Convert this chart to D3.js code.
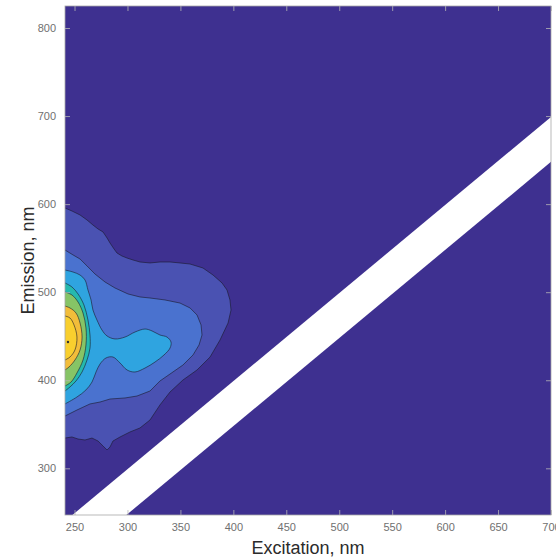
<!DOCTYPE html>
<html>
<head>
<meta charset="utf-8">
<script src="https://cdn.jsdelivr.net/npm/d3@7"></script>
<style>
body { margin: 0; background: #fff; }
text { font-family: "Liberation Sans", Arial, Helvetica, sans-serif; }
</style>
</head>
<body>
<script>
// axis ticks
var excitationTicks = [250, 300, 350, 400, 450, 500, 550, 600, 650, 700];
var emissionTicks = [300, 400, 500, 600, 700, 800];
var excitationRange = [241, 700];
var emissionRange = [247, 825];

// scatter band removed from the EEM (Em - Ex, nm)
var bandOffsets = [-1, -52];

// contour outlines, [excitation, emission] in nm, from outermost to innermost
var level1 = [[241,595.6],[247.6,592.2],[255.2,587.7],[261.8,582.0],[267.4,576.3],[272.2,571.8],[276.9,568.4],[280.7,561.6],[283.5,555.9],[287.3,549.1],[290.1,544.5],[294.8,541.1],[299.6,538.8],[305.2,536.6],[311.8,534.3],[321.3,533.2],[330.7,534.3],[340.2,534.3],[349.6,533.2],[359.1,532.0],[371.3,527.5],[380.8,519.5],[389.3,510.5],[394.0,502.5],[396.8,491.2],[397.8,479.8],[395.0,465.0],[387.4,445.7],[378.0,426.4],[365.7,411.7],[352.4,400.3],[340.2,386.7],[330.7,372.0],[321.3,354.9],[311.8,345.8],[302.4,341.3],[293.0,335.6],[286.3,331.0],[283.5,324.2],[280.7,320.8],[276.9,325.4],[272.2,331.0],[266.5,334.4],[259.9,332.2],[253.3,333.3],[247.6,335.6],[241,334.4]];
var level2 = [[241,547.9],[248.6,542.3],[255.2,537.7],[261.8,529.8],[269.3,520.7],[278.8,511.6],[288.2,504.8],[300.5,498.0],[311.8,494.6],[321.3,493.4],[335.4,491.2],[349.6,487.7],[359.1,482.1],[365.7,474.1],[369.5,462.8],[370.4,451.4],[367.6,440.1],[361.9,428.7],[352.4,417.3],[340.2,407.1],[330.7,399.2],[321.3,387.8],[309.0,382.1],[297.7,379.9],[283.5,378.7],[274.1,375.3],[264.6,373.1],[252.3,366.2],[241,359.4]];
var level3 = [[241,525.2],[248.6,522.9],[255.2,519.5],[259.9,513.9],[262.7,502.5],[265.6,491.2],[267.4,479.8],[271.2,468.4],[275.9,457.1],[280.7,450.3],[288.2,446.9],[297.7,449.1],[307.1,454.8],[316.6,458.2],[323.2,456.0],[330.7,451.4],[337.3,449.1],[341.1,443.5],[340.2,436.6],[334.5,428.7],[326.0,420.7],[316.6,413.9],[307.1,409.4],[299.6,411.7],[293.0,419.6],[286.3,426.4],[279.7,425.3],[274.1,418.5],[270.3,409.4],[266.5,398.0],[260.8,389.0],[252.3,381.0],[241,373.1]];
var level4 = [[241,510.5],[247.6,505.9],[253.3,498.0],[258.9,485.5],[262.7,468.4],[264.6,451.4],[264.6,436.6],[261.8,423.0],[257.1,409.4],[251.4,399.2],[245.7,392.4],[241,387.8]];
var level5 = [[241,500.2],[247.6,496.8],[253.3,488.9],[258.0,476.4],[260.8,459.4],[260.8,440.1],[258.0,423.0],[252.3,408.3],[246.7,398.0],[241,393.5]];
var level6 = [[241,484.3],[245.7,482.1],[251.4,476.4],[255.2,465.0],[257.1,449.1],[255.2,434.4],[250.4,423.0],[244.8,415.1],[241,411.7]];
var level7 = [[241,473.0],[245.7,470.7],[249.5,462.8],[252.3,449.1],[250.4,434.4],[245.7,426.4],[241,423.0]];
var peak = [243.8, 443.5];

var levels = [level1, level2, level3, level4, level5, level6, level7];
var palette = ["#3e3090", "#4a52b2", "#4a72cf", "#2fa4e0", "#25b9ae", "#86c466", "#f2bd3a", "#f9cf2e"];

var width = 556, height = 560;
var margin = {left: 65, right: 5, top: 6, bottom: 45};

var svg = d3.select("body").append("svg")
	.attr("width", width)
	.attr("height", height);

var x = d3.scaleLinear().domain(excitationRange).range([margin.left, width - margin.right]);
var y = d3.scaleLinear().domain(emissionRange).range([height - margin.bottom, margin.top]);

svg.append("clipPath").attr("id", "plot")
	.append("rect")
	.attr("x", x.range()[0]).attr("y", y.range()[1])
	.attr("width", x.range()[1] - x.range()[0])
	.attr("height", y.range()[0] - y.range()[1]);

var g = svg.append("g").attr("clip-path", "url(#plot)");

// lowest level fills the whole plot
g.append("rect")
	.attr("x", x.range()[0]).attr("y", y.range()[1])
	.attr("width", x.range()[1] - x.range()[0])
	.attr("height", y.range()[0] - y.range()[1])
	.attr("fill", palette[0]);

var line = d3.line()
	.x(function(d){ return x(d[0]); })
	.y(function(d){ return y(d[1]); });

for (var i = 0; i < levels.length; i++){
	// outer, noisy contours stay straight-edged, inner ones are smoothed
	line.curve(i < 2 ? d3.curveLinear : d3.curveCatmullRom.alpha(0.5));
	g.append("path")
		.attr("d", line(levels[i]) + "Z")
		.attr("fill", palette[i+1]);
	g.append("path")
		.attr("d", line(levels[i]))
		.attr("fill", "none")
		.attr("stroke", "#1a1a2a")
		.attr("stroke-width", 0.6);
}

g.append("circle")
	.attr("cx", x(peak[0])).attr("cy", y(peak[1]))
	.attr("r", 1.2)
	.attr("fill", "#333");

// blank scatter band
var bandX = excitationRange;
var band = [[bandX[0], bandX[0]+bandOffsets[0]], [bandX[1]+60, bandX[1]+60+bandOffsets[0]],
	[bandX[1]+60, bandX[1]+60+bandOffsets[1]], [bandX[0], bandX[0]+bandOffsets[1]]];
g.append("path")
	.attr("d", d3.line().x(function(d){ return x(d[0]); }).y(function(d){ return y(d[1]); })(band) + "Z")
	.attr("fill", "#fff");

// axes
var tickColor = "#b5b5b5";
var labelColor = "#707070";

var xAxis = svg.append("g")
	.attr("transform", "translate(0," + y.range()[0] + ")")
	.call(d3.axisBottom(x).tickValues(excitationTicks).tickSizeInner(-5).tickSizeOuter(0).tickPadding(8));
var yAxis = svg.append("g")
	.attr("transform", "translate(" + x.range()[0] + ",0)")
	.call(d3.axisLeft(y).tickValues(emissionTicks).tickSizeInner(-5).tickSizeOuter(0).tickPadding(9));
var xTop = svg.append("g")
	.attr("transform", "translate(0," + y.range()[1] + ")")
	.call(d3.axisTop(x).tickValues(excitationTicks).tickSizeInner(-5).tickSizeOuter(0).tickFormat(""));
var yRight = svg.append("g")
	.attr("transform", "translate(" + x.range()[1] + ",0)")
	.call(d3.axisRight(y).tickValues(emissionTicks).tickSizeInner(-5).tickSizeOuter(0).tickFormat(""));

[xAxis, yAxis, xTop, yRight].forEach(function(a){
	a.select(".domain").remove();
	a.selectAll(".tick line").attr("stroke", tickColor).attr("stroke-width", 0.8);
	a.selectAll(".tick text").attr("fill", labelColor).style("font-size", "11px");
});

svg.append("rect")
	.attr("x", x.range()[0]).attr("y", y.range()[1])
	.attr("width", x.range()[1] - x.range()[0])
	.attr("height", y.range()[0] - y.range()[1])
	.attr("fill", "none")
	.attr("stroke", "#a8a8a8")
	.attr("stroke-width", 0.8);

svg.append("text")
	.attr("x", (x.range()[0] + x.range()[1]) / 2)
	.attr("y", 554)
	.attr("text-anchor", "middle")
	.attr("fill", "#2b2b2b")
	.style("font-size", "18px")
	.text("Excitation, nm");

svg.append("text")
	.attr("transform", "translate(34," + (y.range()[0] + y.range()[1]) / 2 + ") rotate(-90)")
	.attr("text-anchor", "middle")
	.attr("fill", "#2b2b2b")
	.style("font-size", "18px")
	.text("Emission, nm");
</script>
</body>
</html>
